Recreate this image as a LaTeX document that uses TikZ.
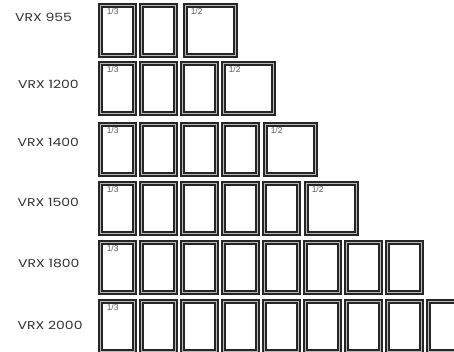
\documentclass[tikz,border=0pt]{standalone}
\usepackage{fontspec}
\setmainfont{Poppins}
\newfontfamily\lblfont[FakeStretch=1.24]{Poppins}
\newfontfamily\fracfont{Liberation Sans}
\begin{document}
\begin{tikzpicture}[x=1pt,y=-1pt,
  frm/.style={draw=black!85, line width=1.8pt, double=black!28, double distance=1.5pt,
    fill=white, inner sep=0pt, minimum height=49.9pt, anchor=north west},
  third/.style={frm, minimum width=33.9pt},
  half/.style={frm, minimum width=49.9pt},
  frac/.style={inner sep=0pt, anchor=north west, text=black!65, font=\fracfont\fontsize{8.5}{10}\selectfont},
  lbl/.style={inner sep=0pt, anchor=west, text=black!80, font=\lblfont\fontsize{11.3}{12}\selectfont}]
\useasboundingbox (0,0) rectangle (454,352);
\clip (0,0) rectangle (454,352);
\foreach \r/\top/\n/\hx/\lab/\lx/\ly in {
  1/2/2/182/VRX 955/15/17,
  2/60/3/220/VRX 1200/18/84,
  3/121/4/262/VRX 1400/17.5/142,
  4/180/5/303/VRX 1500/17.5/202,
  5/239/8/0/VRX 1800/18/263,
  6/298/9/0/VRX 2000/17.5/325}{
  \node[lbl] (l\r) at (\lx,\ly) {\lab};
  \foreach \i in {1,...,\n}{
    \node[third] (f\r-\i) at ({97+41*(\i-1)+2.55},\top+2.55) {};
  }
  \node[frac] (t\r) at ([xshift=7pt,yshift=-4pt]f\r-1.north west) {1/3};
  \ifnum\hx>0
    \node[half] (h\r) at (\hx+2.55,\top+2.55) {};
    \node[frac] (s\r) at ([xshift=6pt,yshift=-4pt]h\r.north west) {1/2};
  \fi
}
\end{tikzpicture}
\end{document}
